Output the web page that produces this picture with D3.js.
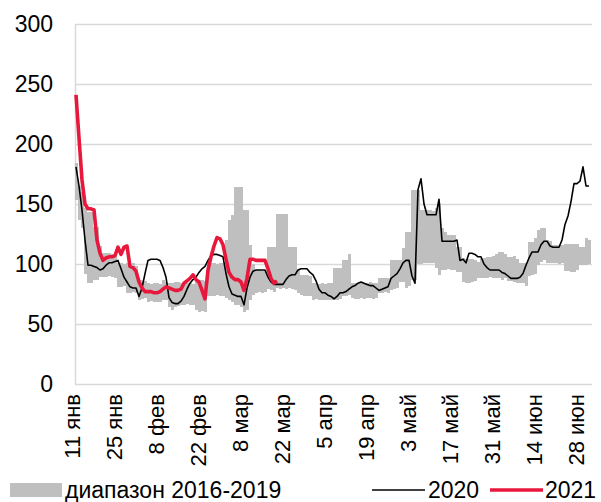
<!DOCTYPE html>
<html>
<head>
<meta charset="utf-8">
<script src="https://cdn.jsdelivr.net/npm/d3@7"></script>
<style>
  body { margin: 0; background: #fff; }
  svg text { font-family: "Liberation Sans", Arial, sans-serif; fill: #000; }
</style>
</head>
<body>
<svg class="chart" width="601" height="502"></svg>
<script>
// daily values, 11 Jan .. 1 Jul
const rangeLow = [153,137,130,92,84,84,87,87,89,89,89,90,89,88,81,81,82,76,76,77,
  76,70,71,72,68,69,68,68,68,70,70,64,62,64,65,66,66,67,66,66,
  62,60,61,60,73,73,73,74,73,73,72,70,68,66,66,64,60,62,70,74,
  76,77,76,77,79,78,77,80,79,80,79,80,79,78,76,74,73,73,73,70,
  71,70,70,70,70,70,70,70,71,73,73,74,72,71,71,72,71,72,72,71,
  72,76,76,77,76,78,79,80,85,85,80,82,87,87,100,100,101,101,101,101,
  97,91,95,95,96,95,95,93,93,85,84,84,85,86,88,88,88,88,89,88,
  88,88,87,88,86,86,85,84,84,84,82,90,91,92,99,102,103,101,101,101,
  101,100,101,94,94,93,93,95,99,99,99,100];

const rangeHigh = [184,165,160,147,143,143,131,131,115,109,109,109,108,108,101,101,100,101,100,101,
  98,87,87,86,84,83,84,84,83,87,85,84,84,85,85,84,84,84,84,83,
  86,87,87,86,101,101,101,100,101,101,120,137,141,164,164,164,145,145,116,100,
  95,95,94,95,114,114,114,142,142,142,142,114,114,114,95,91,91,91,90,84,
  84,83,84,83,84,84,97,97,97,103,103,108,84,84,84,84,84,84,85,84,
  84,88,88,88,88,103,103,103,103,113,127,127,162,162,162,145,145,145,145,144,
  147,151,130,127,124,124,124,114,114,105,104,104,104,103,102,105,105,106,106,107,
  108,110,110,108,106,106,107,104,101,101,101,118,118,122,128,130,130,120,119,116,
  116,116,116,117,117,117,117,117,114,114,122,120];

const values2020 = [181,165,145,120,99,99,98,97,95,96,99,101,101,102,103,96,89,85,81,80,
  80,73,80,92,103,104,104,104,103,97,89,72,68,67,67,69,73,79,84,87,
  89,93,96,98,103,107,108,108,107,106,92,81,75,74,73,73,66,80,89,94,
  95,95,95,95,89,85,83,83,83,83,87,90,91,91,95,96,96,96,93,91,
  86,79,76,76,74,73,71,73,76,76,77,79,81,82,84,85,84,83,82,82,
  80,78,79,80,81,88,90,92,96,101,103,103,90,84,162,171,150,141,141,141,
  141,154,119,119,119,119,119,120,103,104,101,109,109,108,106,106,100,97,95,95,
  95,95,93,92,90,88,88,88,89,92,99,105,110,110,110,116,119,119,115,114,
  114,114,120,133,140,152,167,167,169,181,165,165];

const values2021 = [241,205,170,150,146,146,145,120,109,103,105,106,106,107,114,108,114,115,98,97,
  94,85,80,77,77,77,76,76,77,79,81,80,79,78,78,79,84,86,88,91,
  87,85,78,71,95,106,115,122,121,116,104,93,89,87,87,85,78,88,104,104,
  103,103,103,103,96,88,84,86];

const yTicks = [0, 50, 100, 150, 200, 250, 300];
const xTickDays = [0, 14, 28, 42, 56, 70, 84, 98, 112, 126, 140, 154, 168];
const xTickLabels = ["11 янв", "25 янв", "8 фев", "22 фев", "8 мар", "22 мар", "5 апр",
  "19 апр", "3 май", "17 май", "31 май", "14 июн", "28 июн"];

const svg = d3.select("svg.chart");

const x = d3.scaleLinear().domain([0, 171]).range([76, 589]);
const y = d3.scaleLinear().domain([0, 300]).range([384, 24]);

// gridlines
svg.append("g")
  .selectAll("line")
  .data(yTicks)
  .enter()
  .append("line")
  .attr("x1", 75)
  .attr("x2", 592)
  .attr("y1", (d) => Math.round(y(d)) + 0.5)
  .attr("y2", (d) => Math.round(y(d)) + 0.5)
  .attr("stroke", "#d9d9d9")
  .attr("stroke-width", 1.5);

svg.append("line")
  .attr("x1", 75.5).attr("x2", 75.5)
  .attr("y1", y(300)).attr("y2", y(0))
  .attr("stroke", "#d9d9d9")
  .attr("stroke-width", 1.5);

// y labels
svg.append("g")
  .selectAll("text")
  .data(yTicks)
  .enter()
  .append("text")
  .attr("x", 53)
  .attr("y", (d) => y(d))
  .attr("dy", "0.35em")
  .attr("text-anchor", "end")
  .style("font-size", "23px")
  .text((d) => d);

// range bars
svg.append("g")
  .attr("shape-rendering", "crispEdges")
  .selectAll("rect")
  .data(rangeLow)
  .enter()
  .append("rect")
  .attr("x", (d, i) => Math.round(x(i)) - 1)
  .attr("width", 3)
  .attr("y", (d, i) => Math.round(y(rangeHigh[i])))
  .attr("height", (d, i) => Math.round(y(d)) - Math.round(y(rangeHigh[i])))
  .attr("fill", "#bfbfbf");

const line = d3.line()
  .x((d, i) => x(i))
  .y((d) => y(d));

svg.append("path")
  .datum(values2020)
  .attr("d", line)
  .attr("fill", "none")
  .attr("stroke", "#000")
  .attr("stroke-width", 1.6)
  .attr("stroke-linejoin", "round");

svg.append("path")
  .datum(values2021)
  .attr("d", line)
  .attr("fill", "none")
  .attr("stroke", "#e8173c")
  .attr("stroke-width", 3.6)
  .attr("stroke-linejoin", "round");

// x labels
svg.append("g")
  .selectAll("text")
  .data(xTickDays)
  .enter()
  .append("text")
  .attr("transform", (d) => "translate(" + (x(d) - 4) + ",394) rotate(-90)")
  .attr("dy", "0.35em")
  .attr("text-anchor", "end")
  .style("font-size", "22px")
  .text((d, i) => xTickLabels[i]);

// legend
const legend = svg.append("g").style("font-size", "23px");

legend.append("rect")
  .attr("x", 10).attr("y", 483)
  .attr("width", 52).attr("height", 14)
  .attr("fill", "#bfbfbf");
legend.append("text").attr("x", 65).attr("y", 498).text("диапазон 2016-2019");

legend.append("line")
  .attr("x1", 372).attr("x2", 425)
  .attr("y1", 490).attr("y2", 490)
  .attr("stroke", "#000").attr("stroke-width", 1.6);
legend.append("text").attr("x", 428).attr("y", 498).text("2020");

legend.append("line")
  .attr("x1", 490).attr("x2", 543)
  .attr("y1", 490).attr("y2", 490)
  .attr("stroke", "#e8173c").attr("stroke-width", 3.6);
legend.append("text").attr("x", 545).attr("y", 498).text("2021");
</script>
</body>
</html>
